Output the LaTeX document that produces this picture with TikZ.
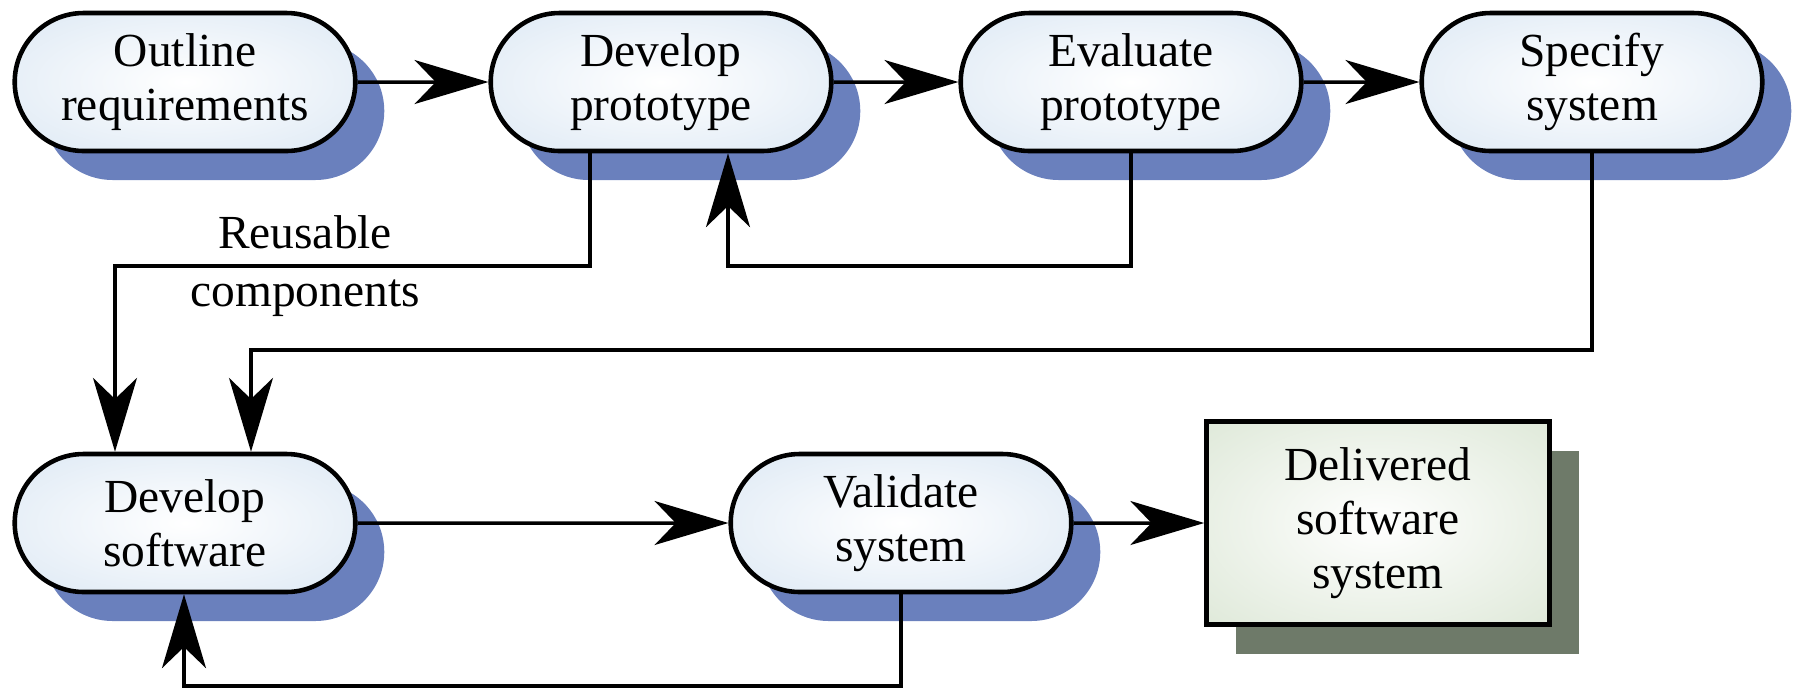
\documentclass[tikz,border=0pt]{standalone}
\usepackage{fontspec}
\setmainfont{Liberation Serif}
\usetikzlibrary{arrows.meta,shapes.misc,shadows}
\definecolor{boxblue}{RGB}{208,224,240}
\definecolor{shadeblue}{RGB}{106,128,189}
\definecolor{boxgreen}{RGB}{210,224,202}
\definecolor{shadegreen}{RGB}{110,122,105}
\pgfdeclareradialshading{blueglow}{\pgfpoint{0bp}{0bp}}{color(0bp)=(white); color(50bp)=(boxblue)}
\pgfdeclareradialshading{greenglow}{\pgfpoint{0bp}{0bp}}{color(0bp)=(white); color(50bp)=(boxgreen)}
\tikzset{
	task/.style={rounded rectangle,draw,line width=1.3pt,shading=blueglow,
		minimum width=3.64cm,minimum height=1.38cm,align=center,
		drop shadow={shadow xshift=0.29cm,shadow yshift=-0.29cm,fill=shadeblue,opacity=1}},
	product/.style={rectangle,draw,line width=1.3pt,shading=greenglow,
		minimum width=3.43cm,minimum height=2.03cm,align=center,
		drop shadow={shadow xshift=0.29cm,shadow yshift=-0.29cm,fill=shadegreen,opacity=1}},
	flow/.style={line width=1pt,-{Stealth[length=21pt,width=12.5pt,inset=6pt]}},
	link/.style={line width=1pt}
}

\begin{document}
\begin{tikzpicture}[font=\fontsize{13.5}{15.4}\selectfont]
						\useasboundingbox (0,0) rectangle (17.97,-6.89);
						
						\node [task] (outline) at (1.85,-0.82) {Outline\\requirements};
						\node [task] (devproto) at (6.61,-0.82) {Develop\\prototype};
						\node [task] (evalproto) at (11.31,-0.82) {Evaluate\\prototype};
						\node [task] (specify) at (15.92,-0.82) {Specify\\system};
						\node [task] (devsoft) at (1.85,-5.23) {Develop\\software};
						\node [task] (validate) at (9.01,-5.23) {Validate\\system};
						\node [product] (delivered) at (13.78,-5.23) {Delivered\\software\\system};
						
						\coordinate (reuse) at (1.15,-2.66);
						\coordinate (refine) at (7.28,-2.66);
						\coordinate (spec) at (2.51,-3.50);
						\coordinate (fix) at (1.84,-6.86);
						
						\draw [flow] (outline) -- (devproto);
						\draw [flow] (devproto) -- (evalproto);
						\draw [flow] (evalproto) -- (specify);
						\draw [flow] (devsoft) -- (validate);
						\draw [flow] (validate) -- (delivered);
						
						\draw [flow] ([xshift=-0.71cm]devproto.south) |- (reuse) -- (reuse |- devsoft.north);
						\draw [flow] (evalproto.south) |- (refine) -- (refine |- devproto.south);
						\draw [flow] (specify.south) |- (spec) -- (spec |- devsoft.north);
						\draw [flow] (validate.south) |- (fix) -- (fix |- devsoft.south);
						
						\node [align=center,font=\fontsize{13.5}{16.5}\selectfont] (reusable) at (3.05,-2.66) {Reusable\\components};
					\end{tikzpicture}
\end{document}
